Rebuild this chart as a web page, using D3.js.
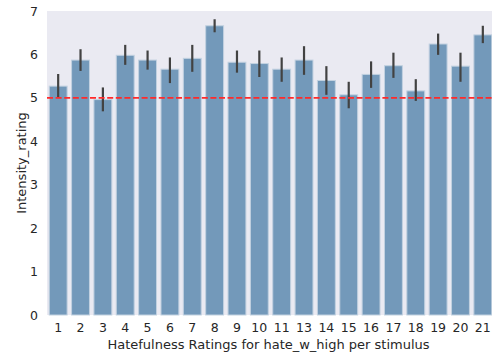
<!DOCTYPE html>
<html>
<head>
<meta charset="utf-8">
<script src="https://cdn.jsdelivr.net/npm/d3@7"></script>
<style>
  body { margin: 0; background: #fff; }
  svg { display: block; font-family: "DejaVu Sans", sans-serif; }
</style>
</head>
<body>
<div id="chart"></div>
<script>
const WIDTH = 492;
const HEIGHT = 356;

// stimuli (12 is missing in the source)
const STIMULI = ["1", "2", "3", "4", "5", "6", "7", "8", "9", "10", "11",
  "13", "14", "15", "16", "17", "18", "19", "20", "21"];
const MEANS = [5.27, 5.87, 4.96, 5.98, 5.87, 5.66, 5.91, 6.66, 5.82, 5.79, 5.66,
  5.87, 5.40, 5.07, 5.54, 5.74, 5.16, 6.24, 5.73, 6.45];
const CI_LOW = [5.01, 5.62, 4.69, 5.76, 5.65, 5.34, 5.60, 6.51, 5.58, 5.48, 5.37,
  5.53, 5.07, 4.76, 5.23, 5.46, 4.93, 5.99, 5.37, 6.26];
const CI_HIGH = [5.55, 6.12, 5.24, 6.22, 6.09, 5.93, 6.22, 6.81, 6.09, 6.09, 5.93,
  6.19, 5.73, 5.37, 5.84, 6.04, 5.43, 6.48, 6.04, 6.66];
const Y_TICKS = [0, 1, 2, 3, 4, 5, 6, 7];
const THRESHOLD = 5;

const margin = { top: 11, right: -2, bottom: 41, left: 47 };
const innerW = WIDTH - margin.left - margin.right;
const innerH = HEIGHT - margin.top - margin.bottom;

const data = STIMULI.map((s, i) => ({ s, mean: MEANS[i], lo: CI_LOW[i], hi: CI_HIGH[i] }));

// matplotlib-like: bar width 0.8, xlim -0.5..n-0.5
const x = d3.scaleBand().domain(STIMULI).range([0, innerW])
  .paddingInner(0.2).paddingOuter(0.1);
const y = d3.scaleLinear().domain([0, 7]).range([innerH, 0]);

const svg = d3.select("#chart").append("svg")
  .attr("width", WIDTH).attr("height", HEIGHT);

const g = svg.append("g").attr("transform", `translate(${margin.left},${margin.top})`);

g.append("rect")
  .attr("width", innerW).attr("height", innerH)
  .attr("fill", "#eaeaf2");

g.selectAll("rect.bar")
  .data(data)
  .join("rect")
  .attr("class", "bar")
  .attr("x", (d) => x(d.s))
  .attr("width", x.bandwidth())
  .attr("y", (d) => y(d.mean))
  .attr("height", (d) => innerH - y(d.mean))
  .attr("fill", "#7399ba")
  .attr("stroke", "#c2d1e0")
  .attr("stroke-width", 1);

g.selectAll("line.err")
  .data(data)
  .join("line")
  .attr("class", "err")
  .attr("x1", (d) => x(d.s) + x.bandwidth() / 2)
  .attr("x2", (d) => x(d.s) + x.bandwidth() / 2)
  .attr("y1", (d) => y(d.lo))
  .attr("y2", (d) => y(d.hi))
  .attr("stroke", "#424242")
  .attr("stroke-width", 2.2);

g.append("line")
  .attr("x1", 0).attr("x2", innerW)
  .attr("y1", y(THRESHOLD)).attr("y2", y(THRESHOLD))
  .attr("stroke", "#ff2a2a")
  .attr("stroke-width", 1.6)
  .attr("stroke-dasharray", "6,2.6");

// y axis
const yAxis = g.append("g")
  .call(d3.axisLeft(y).tickValues(Y_TICKS).tickFormat(d3.format("d")).tickSize(0).tickPadding(9));
yAxis.select(".domain").remove();
yAxis.selectAll("text")
  .attr("fill", "#262626")
  .style("font-size", "12.5px")
  .style("font-family", "DejaVu Sans");

// x axis
const xAxis = g.append("g")
  .attr("transform", `translate(0,${innerH})`)
  .call(d3.axisBottom(x).tickSize(0).tickPadding(8));
xAxis.select(".domain").remove();
xAxis.selectAll("text")
  .attr("fill", "#262626")
  .style("font-size", "12.5px")
  .style("font-family", "DejaVu Sans");

svg.append("text")
  .attr("x", margin.left + innerW / 2 - 2)
  .attr("y", 349)
  .attr("text-anchor", "middle")
  .attr("fill", "#262626")
  .style("font-size", "13px")
  .text("Hatefulness Ratings for hate_w_high per stimulus");

svg.append("text")
  .attr("transform", `translate(26,${margin.top + innerH / 2}) rotate(-90)`)
  .attr("text-anchor", "middle")
  .attr("fill", "#262626")
  .style("font-size", "13px")
  .text("Intensity_rating");
</script>
</body>
</html>
